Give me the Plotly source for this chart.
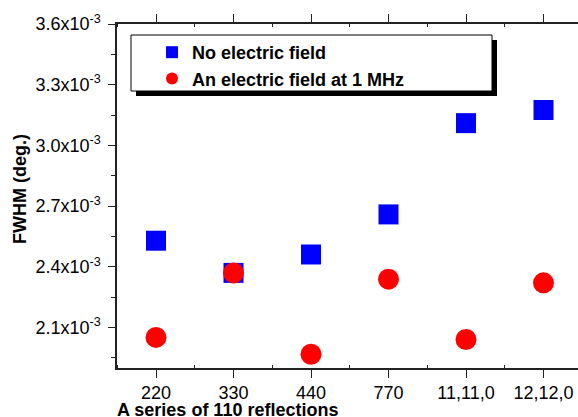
import plotly.graph_objects as go

categories = ["220", "330", "440", "770", "11,11,0", "12,12,0"]
no_field = [2.529e-3, 2.370e-3, 2.461e-3, 2.659e-3, 3.110e-3, 3.175e-3]
field_1mhz = [2.051e-3, 2.370e-3, 1.968e-3, 2.339e-3, 2.041e-3, 2.321e-3]
y_ticks = [2.1e-3, 2.4e-3, 2.7e-3, 3.0e-3, 3.3e-3, 3.6e-3]
y_ticktext = ["2.1x10<sup>-3</sup>", "2.4x10<sup>-3</sup>", "2.7x10<sup>-3</sup>",
              "3.0x10<sup>-3</sup>", "3.3x10<sup>-3</sup>", "3.6x10<sup>-3</sup>"]
y_minor = [1.95e-3, 2.25e-3, 2.55e-3, 2.85e-3, 3.15e-3, 3.45e-3]

FONT = "Liberation Sans, Arial, Helvetica, sans-serif"
FS = 18
W, H = 578, 417
L, T, R, B = 117, 24, 0, 49
PW, PH = W - L - R, H - T - B

def px(x):
    return (x - L) / PW

def py(y):
    return (H - B - y) / PH

xidx = list(range(len(categories)))
x_min_idx = [i + 0.5 for i in range(-1, len(categories))]

fig = go.Figure()
fig.add_trace(go.Scatter(
    x=xidx, y=no_field, mode="markers", name="No electric field",
    legendgroup="a",
    marker=dict(symbol="square", size=20, color="#0000FF", line=dict(width=0)),
))
fig.add_trace(go.Scatter(
    x=xidx, y=field_1mhz, mode="markers", name="An electric field at 1 MHz",
    legendgroup="b",
    marker=dict(symbol="circle", size=21, color="#FF0000", line=dict(width=0)),
))

xr = [-(156 - L) / 77.5, (W - 156) / 77.5]
yr = [1.9e-3, 3.6e-3]
axcol = "#222222"

fig.update_layout(
    template="none",
    width=W, height=H,
    margin=dict(l=L, r=R, t=T, b=B, pad=0, autoexpand=False),
    paper_bgcolor="white", plot_bgcolor="white",
    font=dict(family=FONT, size=FS, color="black"),
    showlegend=True,
    legend=dict(
        x=px(152), y=py(34), xanchor="left", yanchor="top",
        bgcolor="rgba(0,0,0,0)", borderwidth=0,
        font=dict(family=FONT, size=FS, color="black", weight="bold"),
        itemsizing="constant", tracegroupgap=0,
    ),
    xaxis=dict(
        automargin=False,
        range=xr, tickmode="array", tickvals=xidx, ticktext=categories,
        showgrid=False, zeroline=False,
        showline=True, linecolor=axcol, linewidth=1.5, mirror="ticks",
        ticks="outside", ticklen=8, tickwidth=1.2, tickcolor=axcol,
        tickfont=dict(family=FONT, size=FS, color="black"),
        minor=dict(tickvals=x_min_idx, ticks="inside", ticklen=3, tickwidth=1, tickcolor=axcol),
    ),
    xaxis2=dict(
        automargin=False,
        overlaying="x", side="top", matches="x", range=xr,
        tickmode="array", tickvals=xidx, showticklabels=False,
        showgrid=False, zeroline=False, showline=False,
        ticks="inside", ticklen=7, tickwidth=1.2, tickcolor=axcol,
    ),
    yaxis=dict(
        automargin=False,
        range=yr, tickmode="array", tickvals=y_ticks, ticktext=y_ticktext,
        showgrid=False, zeroline=False,
        showline=True, linecolor=axcol, linewidth=1.5, mirror=False,
        ticks="outside", ticklen=7, tickwidth=1.2, tickcolor=axcol,
        tickfont=dict(family=FONT, size=FS, color="black"),
        ticklabelstandoff=4,
        minor=dict(tickvals=y_minor, ticks="outside", ticklen=4, tickwidth=1, tickcolor=axcol),
    ),
    yaxis2=dict(
        automargin=False,
        overlaying="y", side="left", matches="y", range=yr,
        tickmode="array", tickvals=y_ticks, showticklabels=False,
        showgrid=False, zeroline=False, showline=False,
        ticks="inside", ticklen=6, tickwidth=1.2, tickcolor=axcol,
    ),
    yaxis3=dict(
        automargin=False,
        overlaying="y", side="right", matches="y", range=yr,
        tickmode="array", tickvals=y_ticks, showticklabels=False,
        showgrid=False, zeroline=False, showline=False,
        ticks="inside", ticklen=4, tickwidth=1.2, tickcolor=axcol,
    ),
    shapes=[
        dict(type="rect", xref="paper", yref="paper",
             x0=px(136), x1=px(497), y0=py(96), y1=py(40),
             fillcolor="black", line=dict(width=0), layer="above"),
        dict(type="rect", xref="paper", yref="paper",
             x0=px(131), x1=px(492), y0=py(91), y1=py(35),
             fillcolor="white", line=dict(color="black", width=1), layer="above"),
    ],
    annotations=[
        dict(text="<b>A series of 110 reflections</b>", xref="paper", yref="paper",
             x=px(227), y=py(410), xanchor="center", yanchor="middle",
             showarrow=False, font=dict(family=FONT, size=FS, color="black")),
        dict(text="<b>FWHM (deg.)</b>", xref="paper", yref="paper",
             x=px(20), y=py(189), xanchor="center", yanchor="middle", textangle=-90,
             showarrow=False, font=dict(family=FONT, size=FS, color="black")),
    ],
)

fig.write_html("out.html", config={"displayModeBar": False},
               post_script="document.body.style.margin='0px';document.body.style.overflow='hidden';")
